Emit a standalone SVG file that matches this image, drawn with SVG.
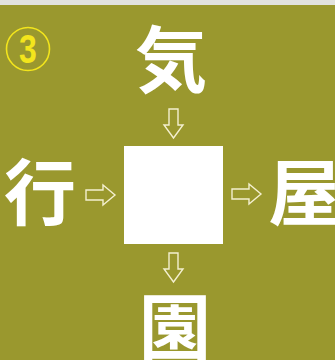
<svg xmlns="http://www.w3.org/2000/svg" width="335" height="360" viewBox="0 0 335 360">
<defs>
<style>
.k{font-family:"Noto Sans CJK JP","Noto Sans CJK SC",sans-serif;font-weight:700;fill:#ffffff;text-anchor:middle;font-size:72px}
.arr{fill:none;stroke:#f4f0d0;stroke-width:1.4;stroke-linejoin:miter}
</style>
</defs>
<rect x="0" y="0" width="335" height="360" fill="#9a982e"/>
<rect x="0" y="0" width="335" height="5" fill="#e2e2de"/>
<g id="num">
<circle cx="28" cy="49" r="21.5" fill="none" stroke="#f3e51c" stroke-width="1.6"/>
<text x="28" y="63" transform="translate(28 0) scale(0.78 1) translate(-28 0)" font-family="Liberation Sans, sans-serif" font-weight="700" font-size="41" fill="#f3e51c" text-anchor="middle">3</text>
</g>
<g id="center"><rect x="124" y="146" width="99" height="98" fill="#ffffff"/></g>
<g id="top"><text class="k" x="171" y="86">気</text></g>
<g id="left"><text class="k" x="40" y="219">行</text></g>
<g id="right"><text class="k" x="304" y="219">屋</text></g>
<g id="bottom"><text class="k" x="175" y="354">園</text></g>
<g id="connectors">
<path class="arr" d="M169 109 H178 V125 H183 L173.5 138 L164 125 H169 Z"/>
<path class="arr" d="M169 253 H178 V269 H183 L173.5 282 L164 269 H169 Z"/>
<path class="arr" d="M86 190 H103 V185 L115 195 L103 205 V200 H86 Z"/>
<path class="arr" d="M232 189 H249 V184 L261 194 L249 204 V199 H232 Z"/>
</g>
</svg>
